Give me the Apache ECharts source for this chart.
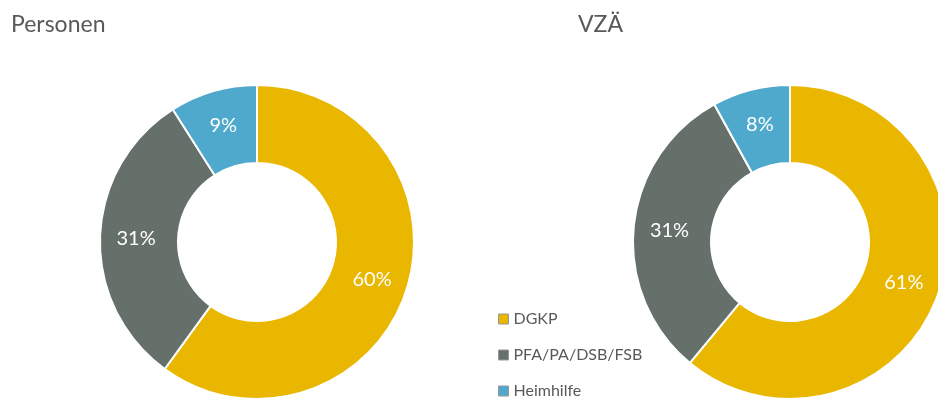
<!DOCTYPE html>
<html lang="de">
<head>
<meta charset="UTF-8">
<title>Personen / VZÄ</title>
<script src="https://cdn.jsdelivr.net/npm/echarts@6/dist/echarts.min.js"></script>
<style>
  html, body { margin: 0; padding: 0; background: #fff; }
  #main { width: 938px; height: 400px; }
</style>
</head>
<body>
<div id="main"></div>
<script>
// Kategorien und Werte (Anteile in %)
var categories = ['DGKP', 'PFA/PA/DSB/FSB', 'Heimhilfe'];
var personen = [60, 31, 9];
var vzae = [61, 31, 8];
var colors = ['#E9B600', '#66706A', '#4FA9CC'];

function toData(values) {
    return values.map(function (v, i) {
        return { name: categories[i], value: v };
    });
}

var labelFont = 'Lato, "Open Sans", sans-serif';

function donut(name, values, center) {
    return {
        name: name,
        type: 'pie',
        center: center,
        radius: [79, 157],
        startAngle: 90,
        clockwise: true,
        avoidLabelOverlap: false,
        itemStyle: { borderColor: '#fff', borderWidth: 2 },
        label: {
            show: true,
            position: 'inside',
            formatter: '{c}%',
            color: '#fff',
            fontSize: 20,
            fontFamily: labelFont
        },
        labelLine: { show: false },
        emphasis: { scale: false },
        data: toData(values)
    };
}

var option = {
    animation: false,
    color: colors,
    title: [
        { text: 'Personen', left: 6, top: 8,
          textStyle: { fontSize: 23, fontWeight: 'normal', color: '#595959', fontFamily: labelFont } },
        { text: 'VZÄ', left: 573, top: 8,
          textStyle: { fontSize: 23, fontWeight: 'normal', color: '#595959', fontFamily: labelFont } }
    ],
    legend: {
        orient: 'vertical',
        left: 498,
        top: 311,
        height: 110,
        padding: 0,
        itemWidth: 10,
        itemHeight: 10,
        itemGap: 20,
        icon: 'rect',
        itemStyle: { borderColor: '#999', borderWidth: 1 },
        textStyle: { fontSize: 16, lineHeight: 14, color: '#595959', fontFamily: labelFont },
        data: categories
    },
    series: [
        donut('Personen', personen, [257, 242]),
        donut('VZÄ', vzae, [790, 242])
    ]
};

var myChart = echarts.init(document.getElementById('main'));
myChart.setOption(option);
</script>
</body>
</html>
